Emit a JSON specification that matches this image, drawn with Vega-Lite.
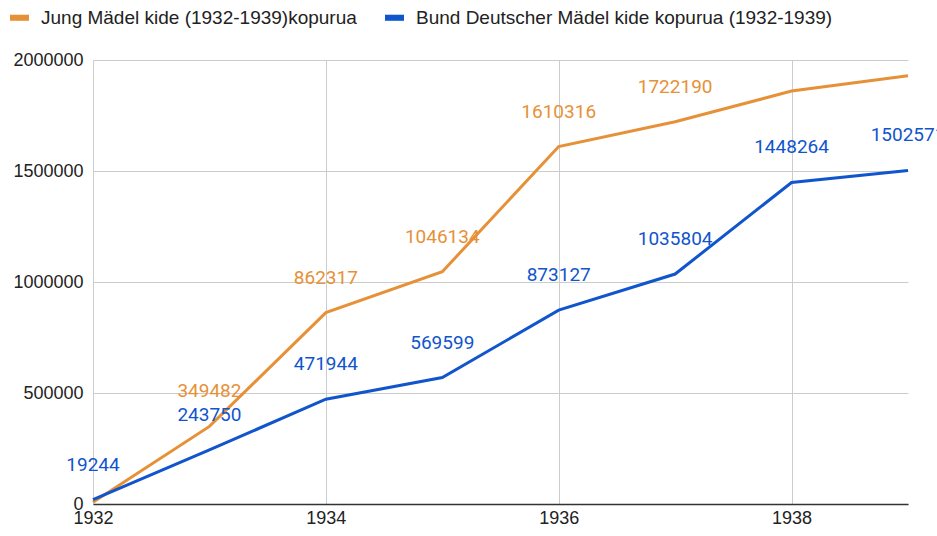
{
  "$schema": "https://vega.github.io/schema/vega-lite/v6.json",
  "autosize": "none",
  "width": 815,
  "height": 444,
  "padding": {"left": 93, "top": 60, "right": 29, "bottom": 32},
  "background": "white",
  "config": {
    "font": "Liberation Sans",
    "view": {"stroke": null}
  },
  "data": {
    "values": [
      {"year": 1932, "series": "Jung Mädel kide (1932-1939)kopurua", "value": 8000},
      {"year": 1933, "series": "Jung Mädel kide (1932-1939)kopurua", "value": 349482},
      {"year": 1934, "series": "Jung Mädel kide (1932-1939)kopurua", "value": 862317},
      {"year": 1935, "series": "Jung Mädel kide (1932-1939)kopurua", "value": 1046134},
      {"year": 1936, "series": "Jung Mädel kide (1932-1939)kopurua", "value": 1610316},
      {"year": 1937, "series": "Jung Mädel kide (1932-1939)kopurua", "value": 1722190},
      {"year": 1938, "series": "Jung Mädel kide (1932-1939)kopurua", "value": 1860000},
      {"year": 1939, "series": "Jung Mädel kide (1932-1939)kopurua", "value": 1929000},
      {"year": 1932, "series": "Bund Deutscher Mädel kide kopurua (1932-1939)", "value": 19244},
      {"year": 1933, "series": "Bund Deutscher Mädel kide kopurua (1932-1939)", "value": 243750},
      {"year": 1934, "series": "Bund Deutscher Mädel kide kopurua (1932-1939)", "value": 471944},
      {"year": 1935, "series": "Bund Deutscher Mädel kide kopurua (1932-1939)", "value": 569599},
      {"year": 1936, "series": "Bund Deutscher Mädel kide kopurua (1932-1939)", "value": 873127},
      {"year": 1937, "series": "Bund Deutscher Mädel kide kopurua (1932-1939)", "value": 1035804},
      {"year": 1938, "series": "Bund Deutscher Mädel kide kopurua (1932-1939)", "value": 1448264},
      {"year": 1939, "series": "Bund Deutscher Mädel kide kopurua (1932-1939)", "value": 1502571}
    ]
  },
  "encoding": {
    "x": {
      "field": "year", "type": "quantitative",
      "scale": {"domain": [1932, 1939], "nice": false, "zero": false},
      "axis": {
        "title": null, "values": [1932, 1934, 1936, 1938], "format": "d",
        "labelFontSize": 18, "labelColor": "#222", "labelPadding": 5,
        "ticks": false, "domain": true, "domainColor": "#333", "domainWidth": 1.5,
        "grid": true, "gridColor": "#cccccc", "labelFlush": false
      }
    },
    "y": {
      "field": "value", "type": "quantitative",
      "scale": {"domain": [0, 2000000], "nice": false},
      "axis": {
        "title": null, "values": [0, 500000, 1000000, 1500000, 2000000], "format": "d",
        "labelFontSize": 18, "labelColor": "#222", "labelPadding": 10,
        "ticks": false, "domain": false, "grid": true, "gridColor": "#cccccc"
      }
    },
    "color": {
      "field": "series", "type": "nominal",
      "scale": {
        "domain": ["Jung Mädel kide (1932-1939)kopurua", "Bund Deutscher Mädel kide kopurua (1932-1939)"],
        "range": ["#e69138", "#1155cc"]
      },
      "legend": {
        "title": null, "orient": "none", "direction": "horizontal",
        "legendX": -83, "legendY": -52,
        "labelFontSize": 19, "labelColor": "#222", "labelLimit": 600,
        "symbolType": "M-1,-0.32L1,-0.32L1,0.32L-1,0.32Z", "symbolSize": 361,
        "symbolStrokeWidth": 0, "columnPadding": 28, "labelOffset": 12
      }
    }
  },
  "layer": [
    {
      "mark": {"type": "line", "strokeWidth": 3, "clip": false}
    },
    {
      "transform": [{"filter": "datum.series == 'Bund Deutscher Mädel kide kopurua (1932-1939)' || (datum.year >= 1933 && datum.year <= 1937)"}],
      "mark": {"type": "text", "font": "Roboto", "fontSize": 19, "dy": -35, "baseline": "middle", "align": "center"},
      "encoding": {
        "text": {"field": "value", "type": "quantitative", "format": "d"}
      }
    }
  ]
}
